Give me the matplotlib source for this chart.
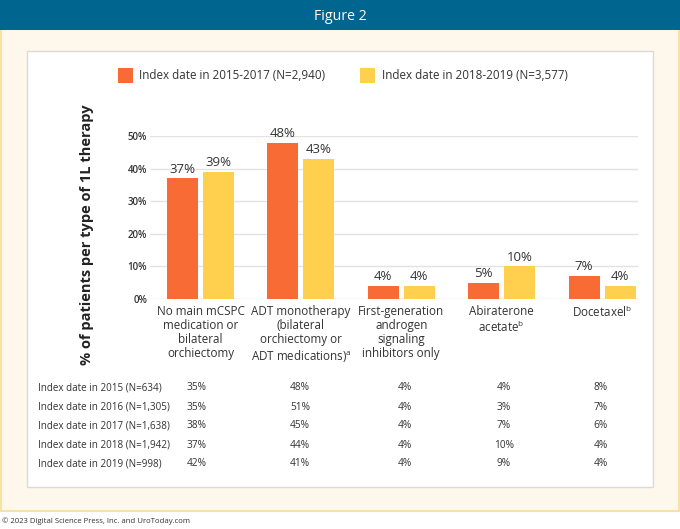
import matplotlib
matplotlib.use("Agg")
import matplotlib.pyplot as plt
from matplotlib.patches import Rectangle
import numpy as np

plt.rcParams['font.family'] = ['Open Sans', 'DejaVu Sans']
plt.rcParams['mathtext.fontset'] = 'custom'
plt.rcParams['mathtext.rm'] = 'Open Sans'

categories = [
    "No main mCSPC\nmedication or\nbilateral\norchiectomy",
    "ADT monotherapy\n(bilateral\norchiectomy or\nADT medications)$^\\mathrm{a}$",
    "First-generation\nandrogen\nsignaling\ninhibitors only",
    "Abiraterone\nacetate$^\\mathrm{b}$",
    "Docetaxel$^\\mathrm{b}$",
]
series_names = ["Index date in 2015-2017 (N=2,940)", "Index date in 2018-2019 (N=3,577)"]
values_2015_2017 = [37, 48, 4, 5, 7]
values_2018_2019 = [39, 43, 4, 10, 4]
yticks = [0, 10, 20, 30, 40, 50]

table_rows = [
    "Index date in 2015 (N=634)",
    "Index date in 2016 (N=1,305)",
    "Index date in 2017 (N=1,638)",
    "Index date in 2018 (N=1,942)",
    "Index date in 2019 (N=998)",
]
table_values = [
    [35, 48, 4, 4, 8],
    [35, 51, 4, 3, 7],
    [38, 45, 4, 7, 6],
    [37, 44, 4, 10, 4],
    [42, 41, 4, 9, 4],
]

ORANGE = "#F96B35"
YELLOW = "#FFD04E"
BLUE = "#00668F"
CREAM = "#FEF8EC"
CREAM_EDGE = "#F7E2A6"
TXT = "#333333"

W, H = 680, 529
fig = plt.figure(figsize=(W / 100, H / 100), dpi=100)
fig.patch.set_facecolor("white")

def px(x, y):
    return x / W, 1 - y / H

def rect(x0, y0, x1, y1, **kw):
    fx0, fy1 = px(x0, y1)
    r = Rectangle((fx0, fy1), (x1 - x0) / W, (y1 - y0) / H,
                  transform=fig.transFigure, **kw)
    fig.add_artist(r)

# background panels
rect(1, 29, 679, 511, facecolor=CREAM, edgecolor=CREAM_EDGE, linewidth=1.5, zorder=0)
rect(0, 0, 680, 30, facecolor=BLUE, edgecolor="none", zorder=1)
rect(27, 51, 653, 487, facecolor="white", edgecolor="#DADADA", linewidth=1, zorder=1)

fig.text(*px(340, 16), "Figure 2", color="white", fontsize=10.2, ha="center", va="center")
fig.text(*px(2, 521), "© 2023 Digital Science Press, Inc. and UroToday.com",
         color=TXT, fontsize=5.6, ha="left", va="center")

# legend
rect(118, 68, 133, 83, facecolor=ORANGE, edgecolor="none", zorder=2)
fig.text(*px(139, 75.5), series_names[0], color=TXT, fontsize=8.4, ha="left", va="center")
rect(360, 68, 375, 83, facecolor=YELLOW, edgecolor="none", zorder=2)
fig.text(*px(382, 75.5), series_names[1], color=TXT, fontsize=8.4, ha="left", va="center")

# axes
left, bottom = px(150, 299)
right, top = px(638, 136)
ax = fig.add_axes([left, bottom, right - left, top - bottom])
ax.set_facecolor("none")
ax.set_zorder(3)

x = np.arange(len(categories))
spacing = 100.4
ax.set_xlim((150 - 200.5) / spacing, (638 - 200.5) / spacing)
ax.set_ylim(0, 50)
bw = 31 / spacing
off = 18 / spacing

b1 = ax.bar(x - off, values_2015_2017, bw, color=ORANGE, zorder=3)
b2 = ax.bar(x + off, values_2018_2019, bw, color=YELLOW, zorder=3)
for bars, vals in ((b1, values_2015_2017), (b2, values_2018_2019)):
    for b, v in zip(bars, vals):
        ax.annotate(f"{v}%", (b.get_x() + b.get_width() / 2, v), xytext=(0, 2),
                    textcoords="offset points", ha="center", va="bottom",
                    fontsize=9.5, color=TXT, clip_on=False)

ax.set_yticks(yticks)
ax.set_yticklabels([f"{t}%" for t in yticks], fontsize=7, color=TXT, fontweight="semibold")
ax.grid(axis="y", color="#E3E3E3", linewidth=1, zorder=0)
ax.set_axisbelow(True)
for s in ax.spines.values():
    s.set_visible(False)
ax.tick_params(axis="y", length=0, pad=2)
ax.tick_params(axis="x", length=0, pad=4)
ax.set_xticks(x)
ax.set_xticklabels(categories, fontsize=8.4, color=TXT, linespacing=1.13)

fig.text(*px(87, 235), "% of patients per type of 1L therapy", rotation=90,
         fontsize=10.5, fontweight="bold", color="#222222", ha="center", va="center")

# table
row_y = [388, 407, 426, 445, 464]
col_x = [197, 300, 405, 504, 601]
for ry, lab, vals in zip(row_y, table_rows, table_values):
    fig.text(*px(38, ry), lab, fontsize=7.1, color=TXT, ha="left", va="center")
    for cx, v in zip(col_x, vals):
        fig.text(*px(cx, ry), f"{v}%", fontsize=7.3, color=TXT, ha="center", va="center")

fig.savefig("out.png", dpi=100, facecolor=fig.get_facecolor())
